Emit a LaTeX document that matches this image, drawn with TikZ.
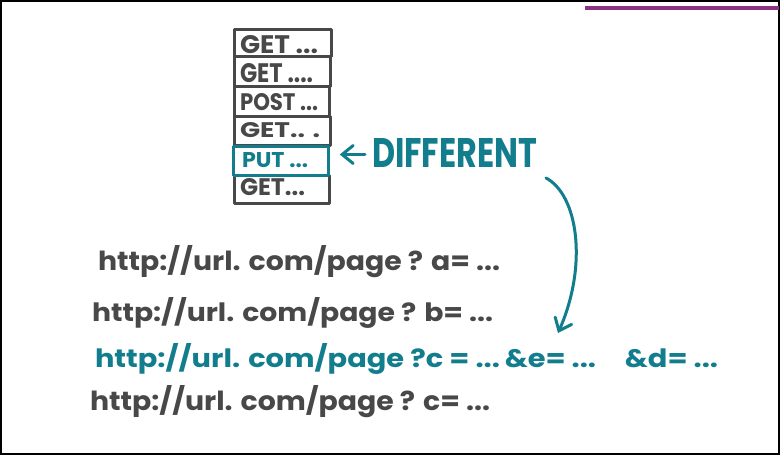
\documentclass[tikz,border=0pt]{standalone}
\usepackage{fontspec}
\setmainfont{Poppins}
\usetikzlibrary{arrows.meta,calc}
\definecolor{ink}{RGB}{72,72,72}
\definecolor{tealink}{RGB}{18,125,140}
\definecolor{plum}{RGB}{140,50,130}
\tikzset{
  boxline/.style={draw=ink, line width=2.8pt, line join=round},
  tealbox/.style={draw=tealink, line width=2.8pt, line join=round},
  txt/.style={anchor=base west, inner sep=0pt, outer sep=0pt, font=\bfseries},
  arr/.style={line width=3pt, line cap=round, line join=round, -{Straight Barb[length=11pt,width=18pt,line cap=round]}},
}
\newcommand{\fit}[3]{\resizebox{#1pt}{#2pt}{#3}}
\begin{document}
\begin{tikzpicture}[x=1pt,y=-1pt]
\useasboundingbox (0,0) rectangle (780,455);
\fill[white] (0,0) rectangle (780,455);
\draw[black, line width=2pt] (1,1) rectangle (779,454);
\coordinate (pl1) at (585,8);
\coordinate (pl2) at (779,8);
\draw[plum, line width=3.2pt] (pl1) -- (pl2);

% stack of requests
\node[boxline, minimum width=97pt, minimum height=27pt, inner sep=0pt, anchor=north west] (r1) at (233,28) {};
\node[boxline, minimum width=96pt, minimum height=30pt, inner sep=0pt, anchor=north west] (r2) at (233,55) {};
\node[boxline, minimum width=95pt, minimum height=30pt, inner sep=0pt, anchor=north west] (r3) at (233,85) {};
\node[boxline, minimum width=96pt, minimum height=29pt, inner sep=0pt, anchor=north west] (r4) at (233,115) {};
\node[boxline, minimum width=95pt, minimum height=28pt, inner sep=0pt, anchor=north west] (r6) at (233,174) {};
\node[tealbox, minimum width=95pt, minimum height=29pt, inner sep=0pt, anchor=north west] (r5) at (232,145) {};

\node[txt, text=ink] (t1) at (240,53) {\fit{78}{18}{GET ...}};
\node[txt, text=ink] (t2) at (240,82) {\fit{73}{19}{GET ....}};
\node[txt, text=ink] (t3) at (240,110) {\fit{78}{17}{POST ...}};
\node[txt, text=ink] (t4) at (240,137) {\fit{80}{15}{GET.. .}};
\node[txt, text=tealink] (t5) at (242,167) {\fit{66}{15}{PUT ...}};
\node[txt, text=ink] (t6) at (240,195) {\fit{65}{17}{GET...}};

\node[txt, text=tealink] (diff) at (372,167) {\fit{165}{29}{DIFFERENT}};
\draw[arr, tealink] ($(diff.west)+(-7,2)$) -- ($(diff.west -| r5.east)+(10,2)$);

% URLs
\node[txt, text=ink] (u1) at (98,270) {\fit{402}{25}{http://url. com/page ? a= ...}};
\node[txt, text=ink] (u2) at (92,321) {\fit{401}{24}{http://url. com/page ? b= ...}};
\node[txt, text=tealink] (u3) at (95,367) {\fit{623}{24}{http://url. com/page ?c = ...\,\&e= ...\quad \&d= ...}};
\node[txt, text=ink] (u4) at (90,410) {\fit{400}{25}{http://url. com/page ? c= ...}};

\coordinate (tip) at (558,333);
\draw[arr, tealink] ($(diff.south east)+(9,11)$) .. controls (578,195) and (588,265) .. (tip);
\end{tikzpicture}
\end{document}
